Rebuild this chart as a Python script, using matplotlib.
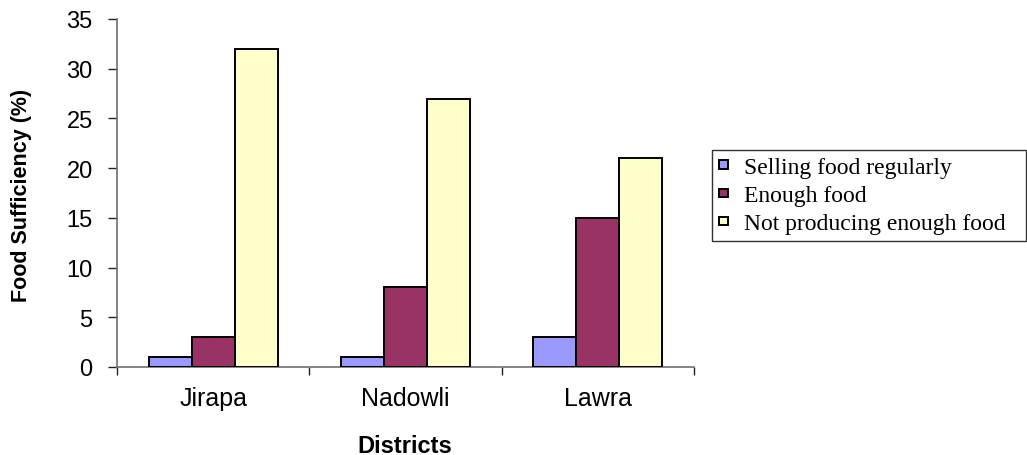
import matplotlib.pyplot as plt
import numpy as np

districts = ["Jirapa", "Nadowli", "Lawra"]
series_names = ["Selling food regularly", "Enough food", "Not producing enough food"]
selling = [1, 1, 3]
enough = [3, 8, 15]
not_enough = [32, 27, 21]
yticks = [0, 5, 10, 15, 20, 25, 30, 35]

colors = ["#9999FF", "#993366", "#FFFFCC"]

fig = plt.figure(figsize=(10.27, 4.56), dpi=100)
ax = fig.add_axes([117 / 1027, 88 / 456, 577 / 1027, 348 / 456])

x = np.arange(len(districts))
w = 0.224
for i, (vals, name, c) in enumerate(zip([selling, enough, not_enough], series_names, colors)):
    ax.bar(x + (i - 1) * w, vals, w, color=c, edgecolor="black", linewidth=1.4,
           label=name, zorder=3)

ax.set_xlim(-0.5, 2.5)
ax.set_ylim(0, 35)
ax.set_yticks(yticks)

# category boundaries carry the tick marks, centers carry the labels
ax.set_xticks([-0.5, 0.5, 1.5, 2.5])
ax.set_xticklabels([])
ax.set_xticks(x, minor=True)
ax.set_xticklabels(districts, minor=True, fontsize=18, family="Liberation Sans")
ax.tick_params(axis="x", which="minor", length=0, pad=14)
ax.tick_params(axis="x", which="major", length=6, width=1, color="#222222", direction="out")
ax.tick_params(axis="y", length=6.5, width=1, color="#222222", direction="out", pad=11)
for lbl in ax.get_yticklabels():
    lbl.set_fontsize(17)
    lbl.set_family("Liberation Sans")

for s in ["top", "right"]:
    ax.spines[s].set_visible(False)
for s in ["left", "bottom"]:
    ax.spines[s].set_color("#707070")
    ax.spines[s].set_linewidth(1.2)

fig.text(22 / 1027, 1 - 195 / 456, "Food Sufficiency (%)", rotation=90,
         ha="center", va="center", fontsize=15.5, fontweight="bold",
         family="Liberation Sans")
fig.text(405 / 1027, 1 - 453 / 456, "Districts", ha="center", va="baseline",
         fontsize=17, fontweight="bold", family="Liberation Sans")

leg = fig.legend(loc="upper left",
                 bbox_to_anchor=(712 / 1027, 1 - 237 / 456, 314 / 1027, 86 / 456),
                 mode="expand",
                 prop={"family": "Liberation Serif", "size": 17},
                 frameon=True, fancybox=False, edgecolor="black",
                 handlelength=0.36, handleheight=0.15, handletextpad=0.7,
                 labelspacing=0.3, borderpad=0.3, borderaxespad=0)
leg.get_frame().set_linewidth(1.0)

fig.savefig("out.png", dpi=100)
